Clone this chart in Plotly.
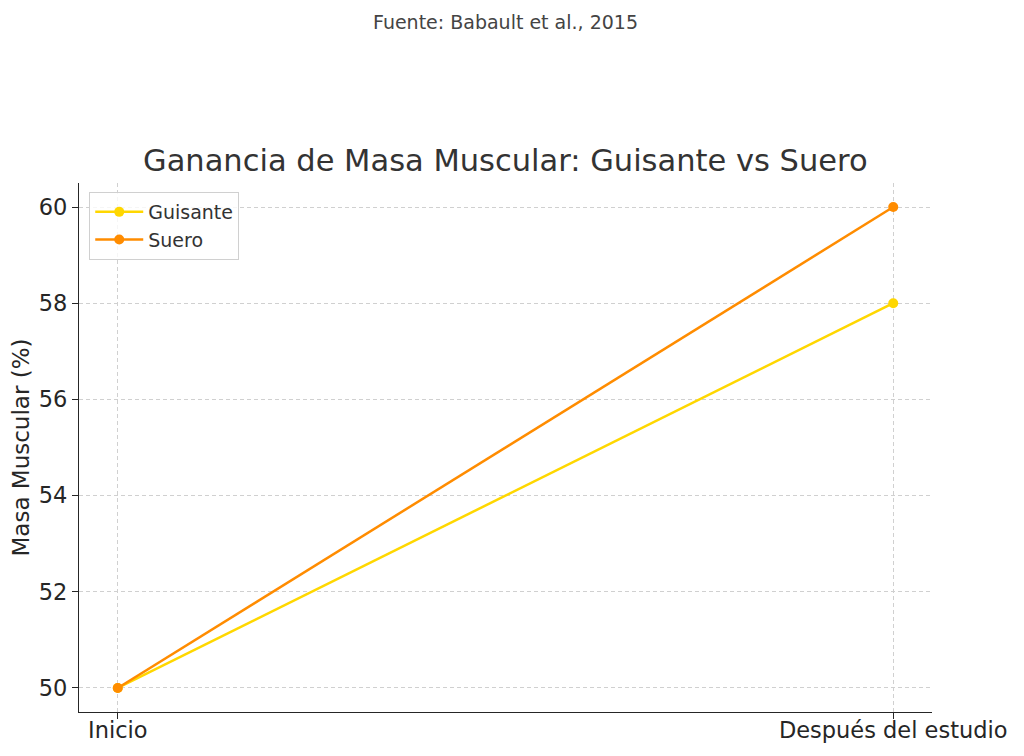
import plotly.graph_objects as go

# Datos
etapas = ['Inicio', 'Después del estudio']
guisante = [50, 58]
suero = [50, 60]

fig = go.Figure()

fig.add_trace(go.Scatter(x=[0, 1], y=guisante, mode='lines+markers', name='Guisante',
                         line=dict(color='#FFD700', width=2.5), marker=dict(size=10)))
fig.add_trace(go.Scatter(x=[0, 1], y=suero, mode='lines+markers', name='Suero',
                         line=dict(color='#FF8C00', width=2.5), marker=dict(size=10)))

axis_common = dict(showline=True, linecolor='#262626', linewidth=1.3, ticks='outside',
                   ticklen=6, tickcolor='#262626', tickfont=dict(size=22.5, color='#262626'),
                   showgrid=True, gridcolor='#d0d0d0', griddash='4px,3px', gridwidth=1,
                   zeroline=False, mirror=False)

fig.update_layout(
    width=1024, height=756,
    paper_bgcolor='white', plot_bgcolor='white',
    font=dict(family='DejaVu Sans', color='#262626'),
    margin=dict(l=67, r=100, t=175, b=52),
    xaxis=dict(range=[-0.05, 1.05], tickvals=[0, 1], ticktext=etapas,
               ticklabelstandoff=-8, **axis_common),
    yaxis=dict(range=[49.5, 60.5], tickvals=[50, 52, 54, 56, 58, 60],
               title=dict(text='Masa Muscular (%)', font=dict(size=23, color='#262626'), standoff=3),
               **axis_common),
    legend=dict(x=0.012, y=0.983, xanchor='left', yanchor='top', itemwidth=48,
                bgcolor='rgba(255,255,255,0.8)', bordercolor='#d0d0d0', borderwidth=1,
                font=dict(size=19, color='#333333')),
    showlegend=True,
    annotations=[
        dict(text='Ganancia de Masa Muscular: Guisante vs Suero', xref='paper', yref='paper',
             x=0.5, y=1.0, yshift=3, xanchor='center', yanchor='bottom', showarrow=False,
             font=dict(size=30.5, color='#333333')),
        dict(text='Fuente: Babault et al., 2015', xref='paper', yref='paper',
             x=0.5, y=1.0, yshift=148, xanchor='center', yanchor='bottom', showarrow=False,
             font=dict(size=19, color='#444444')),
    ],
)

fig.write_html("out.html")
